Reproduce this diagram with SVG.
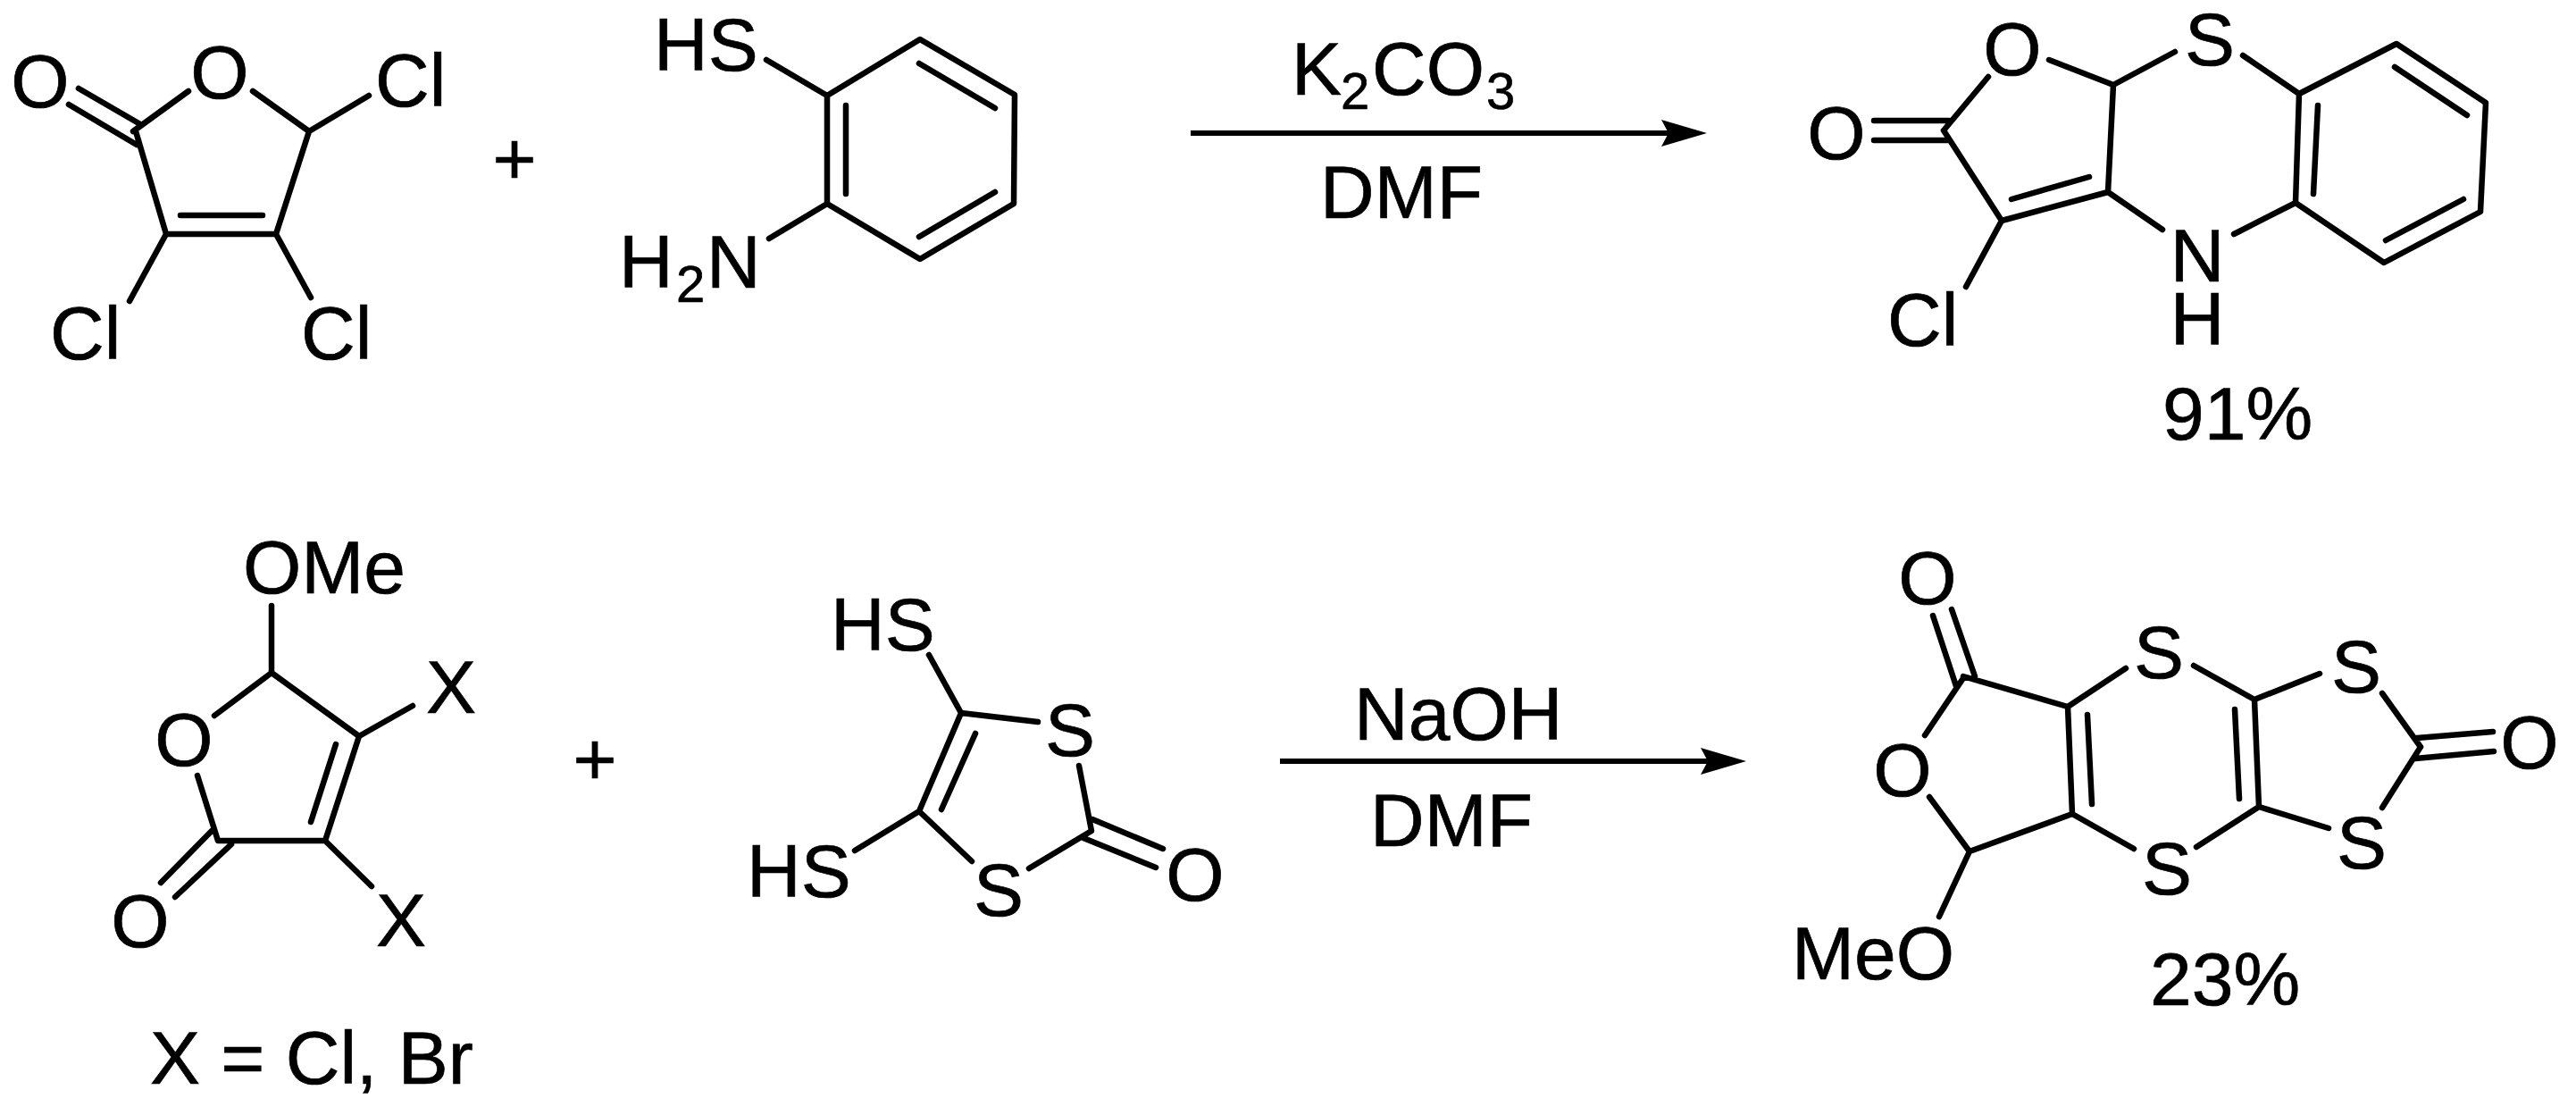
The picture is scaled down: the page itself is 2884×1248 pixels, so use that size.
<svg xmlns="http://www.w3.org/2000/svg" width="2884" height="1248" viewBox="0 0 2884 1248">
<style>
text{font-family:"Liberation Sans",Arial,sans-serif;font-size:84px;fill:#000;stroke:#000;stroke-width:.7px}
.m{text-anchor:middle}
.s{font-size:58px}
path{fill:none;stroke:#000;stroke-width:6.5px;stroke-linecap:round;stroke-linejoin:round}
.a{stroke-width:6px;stroke-linecap:butt}
.h{fill:#000;stroke:none}
</style>
<defs>
<marker id="ah" markerUnits="userSpaceOnUse" markerWidth="54" markerHeight="32" refX="8" refY="15" orient="auto" overflow="visible"><path class="h" d="M0 0L51 15L0 30L8 15Z"/></marker>
</defs>
<rect width="2884" height="1248" fill="#fff"/>
<g id="trichlorofuranone">
<path d="M88 99L157 139M77 117L153 162M149 147L211 102M283 102L346 147L413 107M346 147L309 262L186 262L152 147M202 241H294M186 262L145 337M309 262L348 333"/>
<text class="m" x="45" y="120">O</text><text class="m" x="246" y="110">O</text>
<text x="420" y="119">Cl</text><text x="56" y="402">Cl</text><text x="337" y="402">Cl</text>
</g>
<g id="plus1"><text class="m" x="576" y="206">+</text></g>
<g id="aminothiophenol">
<path d="M926 107L1030 44L1136 106L1135 228L1030 290L926 228ZM858 67L926 107M947 118V217M1029 71L1114 121M1029 265L1114 215M926 228L861 267"/>
<text x="732" y="79">HS</text>
<text x="693" y="322">H</text><text class="s" x="757" y="338">2</text><text x="791" y="322">N</text>
</g>
<g id="reagents1">
<text x="1446" y="106">K</text><text class="s" x="1501" y="122">2</text><text x="1536" y="106">CO</text><text class="s" x="1664" y="122">3</text>
<text x="1478" y="244">DMF</text>
</g>
<g id="product1">
<path d="M2176 146L2226 86M2294 67L2366 95L2435 58M2511 62L2574 105M2366 95L2360 215M2176 146L2241 247L2360 215M2252 223L2339 198M2241 247L2201 321M2360 215L2421 257M2501 262L2570 227M2098 135H2182M2098 157H2182M2574 105L2683 49L2783 115L2777 237L2669 294L2570 227ZM2595 118L2590 217M2681 75L2762 129M2758 223L2671 269"/>
<text class="m" x="2253" y="84">O</text><text class="m" x="2474" y="73">S</text><text class="m" x="2056" y="178">O</text>
<text x="2113" y="387">Cl</text><text class="m" x="2460" y="315">N</text><text class="m" x="2460" y="386">H</text>
<text x="2421" y="492">91%</text>
</g>
<g id="methoxyfuranone">
<path d="M304 678V753L240 801M304 753L402 824L462 790M221 868L244 941H364L402 824M376 833L348 920M364 941L416 992M237 930L180 988M259 945L196 1004"/>
<text x="272" y="664">OMe</text><text class="m" x="505" y="798">X</text><text class="m" x="206" y="857">O</text><text class="m" x="157" y="1060">O</text><text class="m" x="449" y="1059">X</text>
<text x="168" y="1213">X = Cl, Br</text>
</g>
<g id="plus2"><text class="m" x="666" y="878">+</text></g>
<g id="dithiolone">
<path d="M1040 733L1076 798L1162 808M1076 798L1029 908M1092 821L1054 906M1029 908L957 952M1029 908L1088 964M1208 857L1222 930L1152 972M1223 917L1302 950M1213 938L1294 971"/>
<text x="930" y="728">HS</text><text x="836" y="1004">HS</text><text class="m" x="1198" y="846">S</text><text class="m" x="1118" y="1025">S</text><text class="m" x="1338" y="1008">O</text>
</g>
<g id="reagents2">
<text x="1516" y="828">NaOH</text><text x="1534" y="947">DMF</text>
</g>
<g id="product2">
<path d="M2164 689L2190 768M2185 682L2211 757M2198 759L2155 823M2160 892L2205 953L2320 911M2198 757L2315 791L2380 748M2315 791L2320 911M2337 800L2342 900M2456 745L2524 783L2597 754M2667 776L2710 836M2524 783L2529 903M2502 794L2507 894M2529 903L2607 927M2529 903L2459 948M2320 911L2389 950M2710 836L2667 904M2706 826L2791 819M2704 849L2792 841M2205 953L2171 1026"/>
<text class="m" x="2158" y="676">O</text><text class="m" x="2130" y="891">O</text><text class="m" x="2417" y="759">S</text><text class="m" x="2638" y="775">S</text><text class="m" x="2426" y="1001">S</text><text class="m" x="2644" y="972">S</text><text class="m" x="2832" y="860">O</text>
<text x="2006" y="1096">MeO</text><text x="2407" y="1125">23%</text>
</g>
<g id="connectors">
<path class="a" d="M1333 149H1868" marker-end="url(#ah)"/>
<path class="a" d="M1433 852H1912" marker-end="url(#ah)"/>
</g>
</svg>
